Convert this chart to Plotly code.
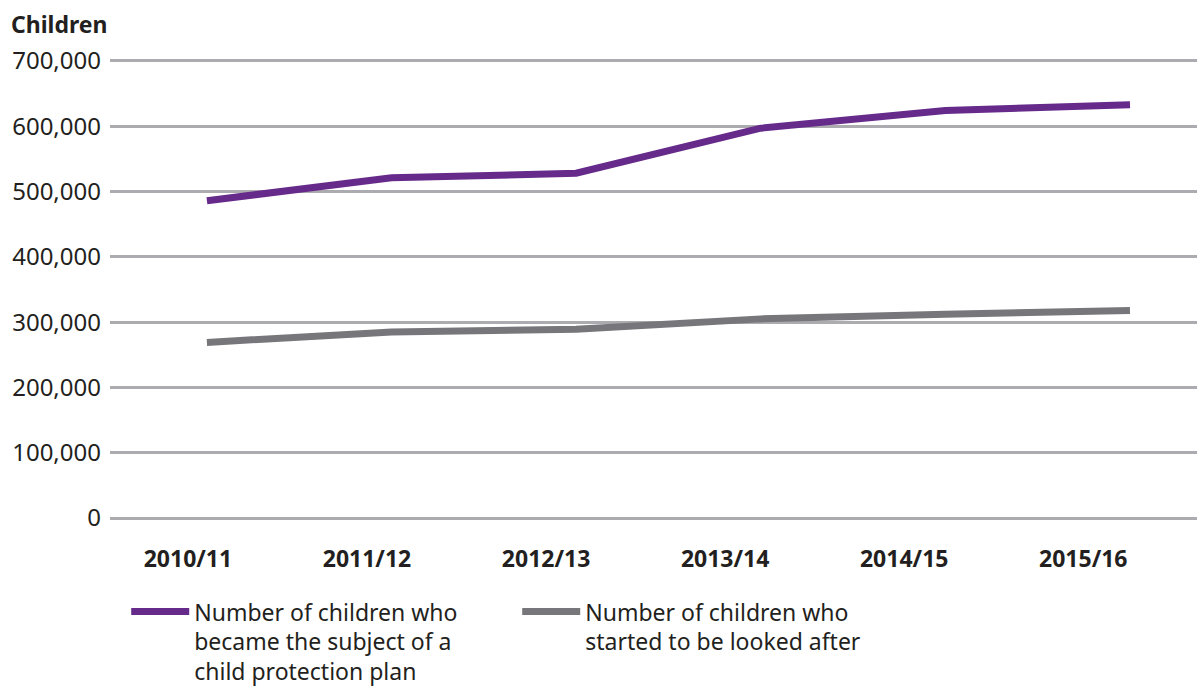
import plotly.graph_objects as go

years = ["2010/11", "2011/12", "2012/13", "2013/14", "2014/15", "2015/16"]
cpp_values = [486000, 521000, 528000, 597000, 624000, 633000]
looked_after_values = [269000, 285000, 289000, 305000, 312000, 318000]
y_ticks = [0, 100000, 200000, 300000, 400000, 500000, 600000, 700000]
y_tick_labels = [f"{v:,}" for v in y_ticks]
series_names = [
    "Number of children who<br>became the subject of a<br>child protection plan",
    "Number of children who<br>started to be looked after",
]

PURPLE = "#662a8a"
GREY = "#77777b"
GRID = "#acacb0"
TEXT = "#231f20"
FONT = "Noto Sans"

xs = list(range(len(years)))
# category labels sit slightly left of the line points in the original
label_pos = [i * 0.97 - 0.103 for i in xs]

fig = go.Figure()
fig.add_trace(go.Scatter(x=xs, y=cpp_values, mode="lines", name=series_names[0],
                         line=dict(color=PURPLE, width=7)))
fig.add_trace(go.Scatter(x=xs, y=looked_after_values, mode="lines", name=series_names[1],
                         line=dict(color=GREY, width=7)))

fig.update_layout(
    width=1202, height=691,
    margin=dict(l=110, r=5, t=59, b=171),
    paper_bgcolor="white", plot_bgcolor="white",
    font=dict(family=FONT, color=TEXT),
    showlegend=True,
    legend=dict(orientation="h", xref="container", yref="container",
                x=0.105, y=0.146, xanchor="left", yanchor="top",
                font=dict(size=23, color=TEXT), itemwidth=58, entrywidth=318,
                valign="top", traceorder="normal", tracegroupgap=0),
    xaxis=dict(range=[-0.525, 5.363], tickvals=label_pos, ticktext=years,
               showgrid=False, zeroline=False, showline=False,
               ticks="", ticklabelstandoff=23,
               tickfont=dict(size=23, family=FONT, color=TEXT, weight="bold")),
    yaxis=dict(range=[-3000, 703000], tickvals=y_ticks, ticktext=y_tick_labels,
               showgrid=True, gridcolor=GRID, gridwidth=3,
               zeroline=True, zerolinecolor=GRID, zerolinewidth=3,
               showline=False, ticks="", ticklabelstandoff=8,
               tickfont=dict(size=24, family=FONT, color=TEXT)),
    annotations=[dict(text="<b>Children</b>", xref="paper", yref="paper",
                      x=-0.0929, y=1.076, xanchor="left", yanchor="middle",
                      showarrow=False, font=dict(size=23, family=FONT, color=TEXT))],
)

fig.write_html("out.html")
